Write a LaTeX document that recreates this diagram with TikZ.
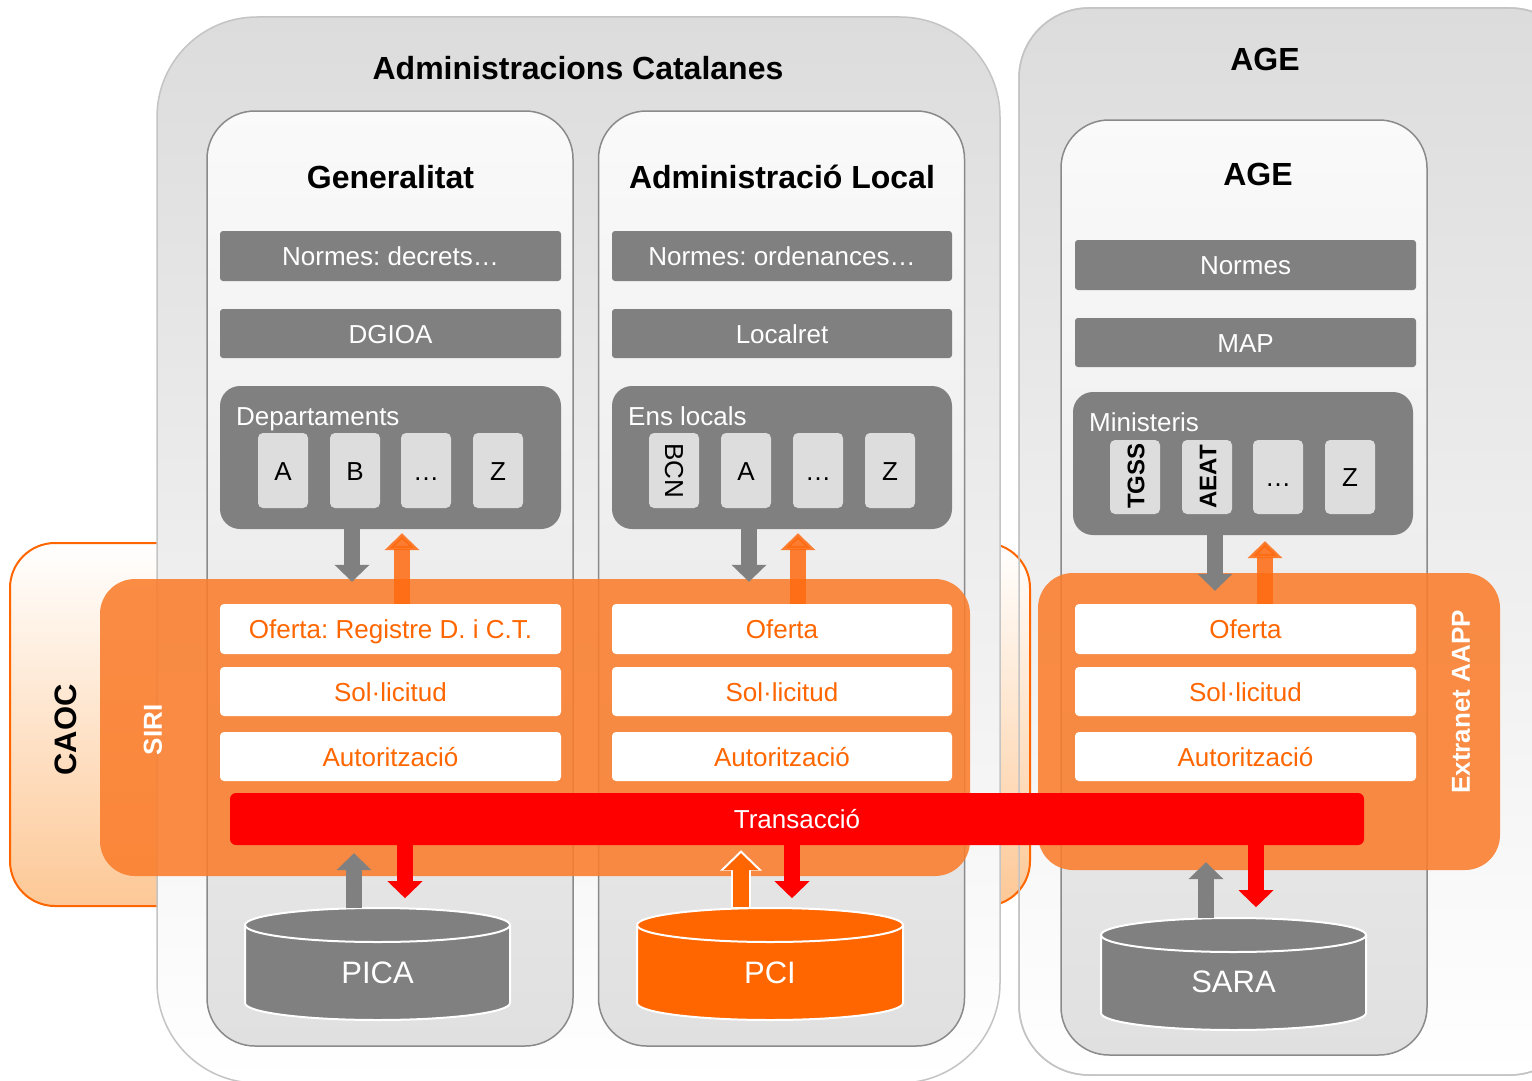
\documentclass[tikz,border=0pt]{standalone}
\usepackage{fontspec}
\setmainfont{Liberation Sans}
\usetikzlibrary{arrows.meta,calc}
\frenchspacing
\definecolor{cgray}{HTML}{808080}
\definecolor{ccard}{HTML}{DDDDDD}
\definecolor{corange}{HTML}{FF6600}
\definecolor{cband}{HTML}{FA7D2C}
\definecolor{cpeach}{HTML}{FDC896}
\definecolor{couter}{HTML}{DCDCDC}
\definecolor{couterline}{HTML}{C4C4C4}
\definecolor{cinner}{HTML}{E0E0E0}
\definecolor{cinnerline}{HTML}{8A8A8A}
\definecolor{cred}{HTML}{FF0000}
\definecolor{carrow}{HTML}{FF6A10}
\newcommand{\mycyl}[5]{% cx, ytop, rx, fill, name
  \path[fill=#4, draw=white, line width=2pt] ({#1-#3},{#2+17}) -- ({#1-#3},{#2+95})
    arc[start angle=180, end angle=360, x radius=#3pt, y radius=17pt]
    -- ({#1+#3},{#2+17})
    arc[start angle=0, end angle=180, x radius=#3pt, y radius=17pt] -- cycle;
  \draw[white, line width=2pt] ({#1-#3},{#2+17})
    arc[start angle=180, end angle=360, x radius=#3pt, y radius=17pt];
  \coordinate (#5top) at (#1,#2);
}
\begin{document}
\frenchspacing
\begin{tikzpicture}[x=1pt,y=-1pt,
  fs/.style={font=\fontsize{#1}{#1}\selectfont},
  bfs/.style={font=\bfseries\fontsize{#1}{#1}\selectfont},
  outerbox/.style={draw=couterline, line width=1.5pt, top color=couter, bottom color=white, inner sep=0pt},
  innerbox/.style={draw=cinnerline, line width=1.5pt, top color=white!98!black, bottom color=cinner, rounded corners=48pt, inner sep=0pt, minimum width=366pt, minimum height=935pt},
  titletext/.style={bfs=32},
  graybar/.style={fill=cgray, text=white, rounded corners=3pt, inner sep=0pt, fs=26, text height=19pt, text depth=0pt, minimum height=50pt},
  groupbox/.style={fill=cgray, rounded corners=20pt, inner sep=0pt, minimum width=341pt, minimum height=143pt},
  grouplabel/.style={text=white, fs=26, anchor=base west, inner sep=0pt},
  card/.style={fill=ccard, rounded corners=5pt, minimum width=50pt, minimum height=75pt, inner sep=0pt, fs=26, text height=19pt, text depth=0pt},
  whitebar/.style={fill=white, text=corange, rounded corners=4pt, inner sep=0pt, fs=26, text height=19pt, text depth=0pt, minimum height=49pt},
  band/.style={fill=cband, fill opacity=0.88, rounded corners=35pt, inner sep=0pt},
  fat/.style={line width=16pt, -{Triangle[width=34pt,length=17pt]}},
  cyltext/.style={text=white, fs=31, inner sep=0pt}
]
\useasboundingbox (0,0) rectangle (1532,1081);
\clip (0,0) rectangle (1532,1081);
\fill[white] (0,0) rectangle (1532,1081);

% outer containers and CAOC
\node[outerbox, rounded corners=70pt, minimum width=561pt, minimum height=1067pt] (ageout) at (1299.5,541.5) {};
\node[draw=corange, line width=2pt, top color=white, bottom color=cpeach, rounded corners=45pt, inner sep=0pt, minimum width=1020pt, minimum height=363pt] (caoc) at (520,724.5) {};
\node[outerbox, rounded corners=100pt, minimum width=843pt, minimum height=1066pt] (catout) at (578.5,550) {};
\draw[couterline, line width=1.5pt, rounded corners=70pt] (1019,8) rectangle (1580,1075);

% inner boxes
\node[innerbox] (gen) at (390,578.5) {};
\node[innerbox] (loc) at (781.5,578.5) {};
\node[innerbox] (agein) at (1244,587.5) {};

% titles
\node[titletext] (tcat) at (578,68) {Administracions Catalanes};
\node[titletext] (tage) at (1265,59) {AGE};
\node[titletext] (tgen) at (390.5,177) {Generalitat};
\node[titletext] (tloc) at (782,177) {Administració Local};
\node[titletext] (tagein) at (1258,174) {AGE};

% Generalitat gray items
\node[graybar, minimum width=341pt] (gnorm) at (390.5,256) {Normes: decrets…};
\node[graybar, minimum width=341pt, minimum height=49pt] (gdgi) at (390.5,333.5) {DGIOA};
\node[groupbox] (gdep) at (390.5,457.5) {};
\node[grouplabel] (gdeplab) at (236,425) {Departaments};
\node[card] (gca) at (283,470.5) {A};
\node[card] (gcb) at (355,470.5) {B};
\node[card] (gcd) at (426,470.5) {…};
\node[card] (gcz) at (498,470.5) {Z};

% Local gray items
\node[graybar, minimum width=340pt] (lnorm) at (782,256) {Normes: ordenances…};
\node[graybar, minimum width=340pt, minimum height=49pt] (lloc) at (782,333.5) {Localret};
\node[groupbox, minimum width=340pt] (lens) at (782,457.5) {};
\node[grouplabel] (lenslab) at (628,425) {Ens locals};
\node[card] (lcbcn) at (674,470.5) {};
\node[fs=26, rotate=-90, inner sep=0pt] (lcbcnt) at (lcbcn) {BCN};
\node[card] (lca) at (746,470.5) {A};
\node[card] (lcd) at (818,470.5) {…};
\node[card] (lcz) at (890,470.5) {Z};

% AGE gray items
\node[graybar, minimum width=341pt] (anorm) at (1245.5,265) {Normes};
\node[graybar, minimum width=341pt, minimum height=49pt] (amap) at (1245.5,342.5) {MAP};
\node[groupbox, minimum width=340pt] (amin) at (1243,463.5) {};
\node[grouplabel] (aminlab) at (1089,431) {Ministeris};
\node[card, minimum height=74pt] (actg) at (1135,477) {};
\node[bfs=24, rotate=90, inner sep=0pt] (actgt) at (1136,476) {TGSS};
\node[card, minimum height=74pt] (acae) at (1207,477) {};
\node[bfs=24, rotate=90, inner sep=0pt] (acaet) at (1208,477) {AEAT};
\node[card, minimum height=74pt] (acd) at (1278,477) {…};
\node[card, minimum height=74pt] (acz) at (1350,477) {Z};

% orange bands
\node[band, minimum width=870pt, minimum height=297pt] (siri) at (535,727.5) {};
\node[band, minimum width=462pt, minimum height=297pt] (extr) at (1269,721.5) {};
\node[bfs=31, rotate=90, inner sep=0pt] (caoclab) at (66,730) {CAOC};
\node[bfs=26, rotate=90, text=white, inner sep=0pt] (sirilab) at (153,730) {SIRI};
\node[bfs=26, rotate=90, text=white, inner sep=0pt] (extrlab) at (1461,702) {Extranet AAPP};

% white bars
\node[whitebar, minimum width=341pt, minimum height=50pt] (gofe) at (390.5,629) {Oferta: Registre D. i C.T.};
\node[whitebar, minimum width=341pt] (gsol) at (390.5,691.5) {Sol·licitud};
\node[whitebar, minimum width=341pt] (gaut) at (390.5,756.5) {Autorització};
\node[whitebar, minimum width=340pt, minimum height=50pt] (lofe) at (782,629) {Oferta};
\node[whitebar, minimum width=340pt] (lsol) at (782,691.5) {Sol·licitud};
\node[whitebar, minimum width=340pt] (laut) at (782,756.5) {Autorització};
\node[whitebar, minimum width=341pt, minimum height=50pt] (aofe) at (1245.5,629) {Oferta};
\node[whitebar, minimum width=341pt] (asol) at (1245.5,691.5) {Sol·licitud};
\node[whitebar, minimum width=341pt] (aaut) at (1245.5,756.5) {Autorització};

% transaction bar
\node[fill=cred, text=white, rounded corners=6pt, inner sep=0pt, fs=26, text height=19pt, text depth=0pt, minimum width=1134pt, minimum height=52pt] (trans) at (797,819) {Transacció};

% cylinders
\mycyl{377.5}{908}{132.5}{cgray}{pica}
\node[cyltext] (pica) at (377.5,973) {PICA};
\mycyl{770}{908}{133}{corange}{pci}
\node[cyltext] (pci) at (770,973) {PCI};
\mycyl{1233.5}{918}{132.5}{cgray}{sara}
\node[cyltext] (sara) at (1233.5,982) {SARA};

% top arrows
\draw[fat, cgray] ($(gdep.south)+(-38.5,0)$) -- ($(gofe.north)+(-38.5,-22)$);
\draw[fat, carrow, opacity=0.85] ($(gofe.north)+(11.5,0)$) -- ($(gdep.south)+(11.5,4)$);
\draw[fat, cgray] ($(lens.south)+(-33,0)$) -- ($(lofe.north)+(-33,-22)$);
\draw[fat, carrow, opacity=0.85] ($(lofe.north)+(16,0)$) -- ($(lens.south)+(16,4)$);
\draw[fat, cgray] ($(amin.south)+(-28,0)$) -- ($(aofe.north)+(-30.5,-13)$);
\draw[fat, carrow, opacity=0.85] ($(aofe.north)+(19.5,0)$) -- ($(amin.south)+(22,6)$);

% bottom arrows
\draw[fat, cgray] ($(picatop)+(-23.5,0)$) -- ($(trans.south)+(-443,8)$);
\draw[fat, cred] ($(trans.south)+(-392,0)$) -- ($(trans.south)+(-392,53)$);
\draw[white, line width=20pt, -{Triangle[width=41pt,length=20.5pt]}] ($(pcitop)+(-29,0)$) -- ($(trans.south)+(-56,5)$);
\draw[fat, corange] ($(pcitop)+(-29,-1)$) -- ($(trans.south)+(-56,8)$);
\draw[fat, cred] ($(trans.south)+(-5,0)$) -- ($(trans.south)+(-5,53)$);
\draw[fat, cgray] ($(saratop)+(-27.5,0)$) -- ($(trans.south)+(409,17)$);
\draw[fat, cred] ($(trans.south)+(459,0)$) -- ($(trans.south)+(459,62)$);
\end{tikzpicture}
\end{document}
